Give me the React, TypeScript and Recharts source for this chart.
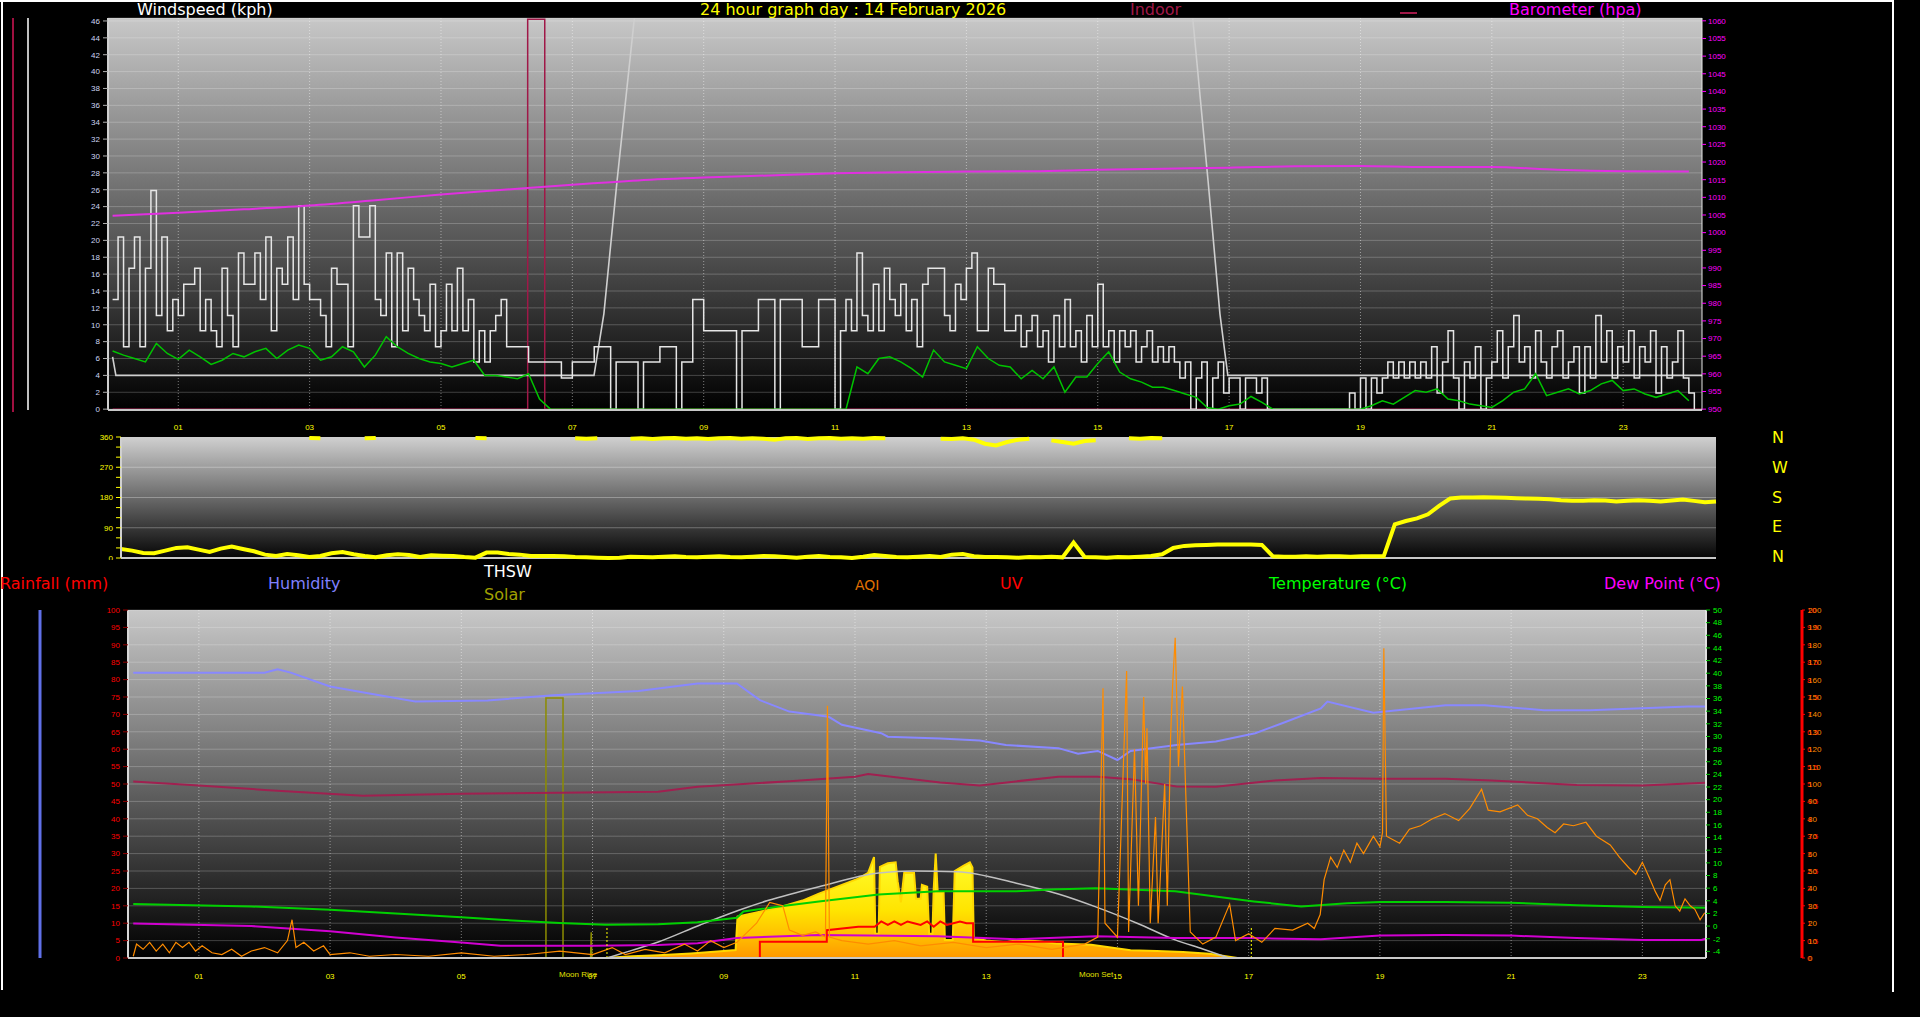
import React from 'react';
import { ComposedChart, Line, Area, XAxis, YAxis, CartesianGrid, ReferenceLine } from 'recharts';

// ---------- windspeed panel ----------
// gusts (kph), one reading every 5 minutes from 00:00
const gustKph = [
  13, 20.4, 7.4, 16.7, 20.4, 7.4, 16.7, 25.9, 11.1, 20.4, 9.3, 13,
  11.1, 14.8, 14.8, 16.7, 9.3, 13, 9.3, 7.4, 16.7, 11.1, 7.4, 18.5,
  14.8, 14.8, 18.5, 13, 20.4, 9.3, 16.7, 14.8, 20.4, 13, 24.1, 14.8,
  13, 13, 11.1, 7.4, 16.7, 14.8, 14.8, 7.4, 24.1, 20.4, 20.4, 24.1,
  13, 11.1, 18.5, 7.4, 18.5, 9.3, 16.7, 13, 11.1, 9.3, 14.8, 7.4,
  9.3, 14.8, 9.3, 16.7, 9.3, 13, 5.6, 9.3, 5.6, 9.3, 11.1, 13,
  7.4, 7.4, 7.4, 7.4, 5.6, 5.6, 5.6, 5.6, 5.6, 5.6, 3.7, 3.7,
  5.6, 5.6, 5.6, 5.6, 7.4, 7.4, 7.4, 0, 5.6, 5.6, 5.6, 5.6,
  0, 5.6, 5.6, 5.6, 7.4, 7.4, 7.4, 0, 5.6, 5.6, 13, 13,
  9.3, 9.3, 9.3, 9.3, 9.3, 9.3, 0, 9.3, 9.3, 9.3, 13, 13,
  13, 0, 13, 13, 13, 13, 7.4, 7.4, 7.4, 13, 13, 13,
  0, 9.3, 13, 9.3, 18.5, 11.1, 9.3, 14.8, 9.3, 16.7, 13, 11.1,
  14.8, 9.3, 13, 7.4, 14.8, 16.7, 16.7, 16.7, 11.1, 9.3, 14.8, 13,
  16.7, 18.5, 9.3, 9.3, 16.7, 14.8, 14.8, 9.3, 9.3, 11.1, 7.4, 9.3,
  11.1, 7.4, 9.3, 5.6, 11.1, 7.4, 13, 7.4, 9.3, 5.6, 11.1, 7.4,
  14.8, 7.4, 9.3, 5.6, 9.3, 7.4, 9.3, 5.6, 7.4, 9.3, 5.6, 7.4,
  5.6, 7.4, 5.6, 3.7, 5.6, 0, 3.7, 5.6, 0, 3.7, 5.6, 1.9,
  3.7, 3.7, 0, 3.7, 3.7, 1.9, 3.7, 0, 0, 0, 0, 0,
  0, 0, 0, 0, 0, 0, 0, 0, 0, 0, 1.9, 0,
  3.7, 0, 3.7, 1.9, 3.7, 5.6, 3.7, 5.6, 3.7, 5.6, 3.7, 5.6,
  3.7, 7.4, 1.9, 5.6, 9.3, 3.7, 0, 5.6, 3.7, 7.4, 0, 3.7,
  5.6, 9.3, 3.7, 7.4, 11.1, 5.6, 7.4, 3.7, 9.3, 5.6, 3.7, 7.4,
  9.3, 3.7, 5.6, 7.4, 1.9, 7.4, 3.7, 11.1, 5.6, 9.3, 3.7, 7.4,
  5.6, 9.3, 3.7, 7.4, 5.6, 9.3, 1.9, 7.4, 3.7, 5.6, 9.3, 3.7,
  1.9, 0,
];

// average wind (kph), every 10 minutes
const avgKph = [
  6.9, 6.4, 6.0, 5.6, 7.8, 6.6,
  5.9, 7.0, 6.2, 5.3, 5.8, 6.6,
  6.2, 6.8, 7.2, 6.0, 7.0, 7.6,
  7.2, 5.8, 6.2, 7.4, 6.8, 5.0,
  6.4, 8.6, 7.4, 6.6, 6.0, 5.6,
  5.4, 5.0, 5.4, 5.8, 4.0, 4.0,
  3.8, 3.6, 4.2, 1.2, 0, 0,
  0, 0, 0, 0, 0, 0,
  0, 0, 0, 0, 0, 0,
  0, 0, 0, 0, 0, 0,
  0, 0, 0, 0, 0, 0,
  0, 0, 5.0, 4.2, 6.0, 6.2,
  5.6, 4.8, 3.8, 7.0, 5.6, 5.2,
  4.8, 7.4, 6.0, 5.2, 5.0, 3.6,
  4.6, 3.6, 5.0, 2.0, 3.8, 3.8,
  5.4, 6.8, 4.4, 3.6, 3.2, 2.6,
  2.6, 2.2, 1.8, 1.4, 0.2, 0,
  0.4, 0.6, 1.5, 0.8, 0, 0,
  0, 0, 0, 0, 0, 0,
  0, 0.4, 1.0, 0.6, 1.4, 2.2,
  2.0, 2.4, 1.2, 1.0, 0.6, 0.4,
  0.2, 1.0, 2.0, 2.4, 4.2, 1.6,
  2.0, 2.4, 1.8, 2.2, 3.0, 3.4,
  2.2, 2.4, 1.8, 1.4, 1.8, 2.2,
  1.0,
];

// barometer (hPa), hourly
const baroHpa = [
  1004.8, 1005.6, 1006.6, 1007.7, 1009.2, 1010.8, 1012.2, 1013.6, 1014.8, 1015.6, 1016.2, 1016.8,
  1017.1, 1017.3, 1017.4, 1017.8, 1018.1, 1018.4, 1018.8, 1018.9, 1018.6, 1018.6, 1017.8, 1017.4, 1017.3,
];

// [hour, value] traces on the windspeed scale
const sunTrace: [number, number][] = [
  [0, 6.2], [0.05, 4], [7.33, 4], [7.48, 11.3], [7.68, 27], [7.94, 46], [8.1, 60],
  [16.3, 60], [16.45, 46], [16.68, 27], [16.86, 11.3], [16.98, 4], [24.2, 4],
];
const indoorTrace: [number, number][] = [
  [0, 0], [6.32, 0], [6.32, 46.2], [6.58, 46.2], [6.58, 0], [24.2, 0],
];

// ---------- wind direction panel, every 10 minutes (deg) ----------
const n = null;
const dirLow = [
  27, 22, 15, 14, 22, 30,
  32, 25, 18, 28, 34, 27,
  20, 10, 6, 12, 8, 3,
  6, 14, 18, 11, 6, 2,
  8, 11, 9, 3, 8, 7,
  6, 3, 1, 16, 16, 12,
  10, 6, 6, 6, 5, 3,
  2, 1, 0, 1, 4, 3,
  2, 4, 5, 3, 2, 4,
  5, 3, 2, 4, 6, 5,
  3, 1, 4, 6, 3, 2,
  0, 4, 9, 6, 3, 2,
  4, 6, 3, 10, 12, 5,
  3, 3, 2, 1, 3, 2,
  4, 2, 46, 3, 2, 1,
  3, 2, 4, 6, 11, 30,
  36, 38, 39, 40, 40, 40,
  40, 39, 5, 4, 4, 5,
  4, 5, 5, 4, 5, 5,
  5, 100, 110, 118, 130, 155,
  177, 180, 180, 181, 180, 179,
  178, 177, 176, 175, 172, 170,
  170, 172, 171, 168, 170, 172,
  170, 168, 171, 174, 170, 166,
  168,
];
const dirHigh = [
  n, n, n, n, n, n,
  n, n, n, n, n, n,
  n, n, n, n, n, 357,
  356, n, n, n, 356, 357,
  n, n, n, n, n, n,
  n, n, 357, 356, n, n,
  n, n, n, n, n, 356,
  355, 356, n, n, 355, 356,
  354, 356, 357, 355, 356, 354,
  356, 357, 355, 356, 355, 352,
  356, 357, 354, 356, 357, 355,
  356, 355, 357, 356, n, n,
  n, n, 355, 354, 356, 352,
  340, 335, 345, 352, 355, n,
  350, 345, 340, 348, 350, n,
  n, 356, 355, 357, 356, n,
  n, n, n, n, n, n,
  n, n, n, n, n, n,
  n, n, n, n, n, n,
  n, n, n, n, n, n,
  n, n, n, n, n, n,
  n, n, n, n, n, n,
  n, n, n, n, n, n,
  n, n, n, n, n, n,
  n,
];

// ---------- lower panel: [hour, value] ----------
const humidityPct: [number, number][] = [
  [0, 82], [1, 82], [2, 82], [2.2, 83], [2.4, 82], [3, 78], [3.6, 76], [4.3, 73.7], [5.4, 74], [6.4, 75.5],
  [7.7, 76.7], [8.6, 78.9], [9.2, 78.9], [9.55, 74.1], [10, 70.8], [10.6, 69.3], [10.8, 67], [11.4, 64.6],
  [11.5, 63.6], [12.3, 63.1], [12.9, 62.5], [13.3, 61.2], [14.1, 60.3], [14.4, 58.7], [14.7, 59.5], [15, 56.9],
  [15.2, 59.5], [15.9, 61.2], [16.5, 62.2], [17.1, 64.6], [17.5, 67.4], [18.1, 71.7], [18.2, 73.7], [18.9, 70.5],
  [20, 72.6], [20.6, 72.6], [21.5, 71.2], [22.2, 71.2], [23.7, 72.3], [24, 72.3],
];
const indoorHumPct: [number, number][] = [
  [0, 50.7], [1, 49.6], [2, 48.3], [3.5, 46.6], [5, 47.2], [6.5, 47.5], [8, 47.8], [8.6, 49.2], [10, 50.8],
  [11, 52.1], [11.2, 52.9], [12.3, 50.4], [12.9, 49.6], [14.1, 52.1], [14.7, 52.1], [15.2, 51.4], [15.9, 49.3],
  [16.5, 49.2], [17.4, 51], [18.1, 51.7], [19, 51.5], [20, 51.5], [20.7, 51], [22, 49.7], [23, 49.6], [24, 50.4],
];
const temperatureC: [number, number][] = [
  [0, 3.5], [1.8, 3.1], [3, 2.6], [4, 2.0], [5, 1.4], [5.6, 1.0], [6.5, 0.5], [7.2, 0.2], [8, 0.3], [8.6, 0.6],
  [9.2, 1.3], [9.3, 2.3], [9.84, 3.1], [10.45, 3.9], [11.36, 5.0], [12.26, 5.5], [13.46, 5.5], [14, 5.8],
  [14.67, 6.0], [15.88, 5.5], [17.08, 3.9], [17.8, 3.1], [18.5, 3.6], [19, 3.8], [20, 3.8], [21, 3.7],
  [22, 3.3], [23, 3.0], [24, 2.9],
];
const dewPointC: [number, number][] = [
  [0, 0.4], [1.8, 0.0], [3, -0.8], [4, -1.8], [5, -2.6], [5.6, -3.1], [7, -3.1], [8, -3.0], [8.6, -2.7],
  [9.2, -1.9], [10.45, -1.4], [12.26, -1.6], [13.46, -2.1], [14.67, -1.6], [15.88, -1.9], [17.08, -1.9],
  [18.1, -2.1], [19, -1.5], [20, -1.4], [21, -1.5], [22, -1.9], [23, -2.2], [23.9, -2.2], [24, -1.9],
];
const sunElevation: [number, number][] = [
  [7.22, 0], [7.6, 2.2], [8, 4.6], [8.64, 9.5], [9.24, 13.8], [9.67, 16.5], [10.45, 20.5], [11.36, 24.4],
  [11.9, 25], [12.56, 24.8], [13.46, 21.5], [14.1, 18.4], [14.67, 14.7], [15.3, 10], [15.88, 5.2],
  [16.3, 2.6], [16.7, 0],
];
const solarWm2: [number, number][] = [
  [0, 0], [7.2, 0], [7.6, 5], [8.0, 8], [8.5, 13], [9.0, 20], [9.18, 23], [9.21, 119], [9.5, 131], [9.84, 145],
  [10.2, 165], [10.45, 185], [10.8, 210], [11.05, 228], [11.2, 245], [11.29, 290], [11.31, 70], [11.36, 70],
  [11.38, 262], [11.5, 272], [11.62, 275], [11.65, 220], [11.7, 160], [11.75, 244], [11.9, 244], [11.93, 170],
  [12.0, 170], [12.02, 210], [12.1, 205], [12.13, 70], [12.18, 70], [12.2, 200], [12.23, 300], [12.26, 190],
  [12.35, 190], [12.37, 52], [12.49, 52], [12.52, 250], [12.65, 265], [12.75, 275], [12.79, 260], [12.81, 57],
  [13.0, 50], [13.3, 45], [13.5, 52], [13.8, 48], [14.06, 42], [14.3, 40], [14.6, 38], [14.9, 30], [15.2, 22],
  [15.6, 20], [16.0, 17], [16.4, 12], [16.83, 0], [24, 0],
];
const uvIndex: [number, number][] = [
  [0, 0], [9.55, 0], [9.55, 0.47], [10.57, 0.47], [10.57, 0.8], [11.05, 0.9], [11.3, 0.9], [11.4, 1.05],
  [11.5, 0.95], [11.6, 1.05], [11.7, 0.95], [11.8, 1.05], [11.9, 1.0], [12.0, 0.95], [12.1, 1.05], [12.2, 0.9],
  [12.3, 1.05], [12.4, 0.95], [12.5, 1.0], [12.6, 1.05], [12.7, 1.0], [12.8, 1.0], [12.8, 0.47], [14.17, 0.47],
  [14.17, 0], [24, 0],
];
const aqi: [number, number][] = [
  [0, 1], [0.05, 8], [0.15, 5], [0.25, 9], [0.35, 4], [0.45, 8], [0.55, 3], [0.65, 9], [0.75, 6], [0.85, 9],
  [0.95, 4], [1.05, 7], [1.2, 3], [1.35, 2], [1.5, 5], [1.65, 1], [1.8, 4], [2.0, 6], [2.2, 3], [2.35, 10],
  [2.42, 22], [2.48, 6], [2.6, 9], [2.75, 4], [2.9, 7], [3.0, 2], [3.3, 3], [3.6, 1], [4.0, 2], [4.5, 1],
  [5.0, 3], [5.5, 1], [6.0, 2], [6.5, 4], [7.0, 2], [7.3, 6], [7.5, 2], [7.8, 5], [8.1, 3], [8.4, 8], [8.6, 4],
  [8.8, 10], [9.0, 6], [9.2, 9], [9.5, 20], [9.7, 32], [9.9, 30], [10.0, 16], [10.2, 13], [10.4, 15],
  [10.55, 12], [10.58, 145], [10.61, 12], [10.8, 10], [11.2, 8], [11.6, 10], [12.0, 7], [12.5, 9], [13.0, 6],
  [13.5, 8], [14.0, 5], [14.5, 8], [14.7, 12], [14.78, 155], [14.81, 20], [15.0, 12], [15.14, 165],
  [15.17, 15], [15.26, 120], [15.32, 30], [15.4, 150], [15.43, 100], [15.45, 132], [15.5, 20], [15.58, 81],
  [15.62, 20], [15.72, 100], [15.76, 30], [15.81, 127], [15.84, 156], [15.88, 184], [15.93, 110],
  [15.99, 156], [16.04, 96], [16.11, 15], [16.3, 8], [16.5, 12], [16.71, 31], [16.8, 10], [17.0, 14],
  [17.2, 9], [17.4, 17], [17.67, 16], [17.9, 20], [18.0, 17], [18.09, 25], [18.15, 45], [18.25, 58],
  [18.35, 52], [18.45, 62], [18.55, 55], [18.65, 66], [18.75, 60], [18.9, 70], [19.0, 64], [19.04, 72],
  [19.06, 178], [19.1, 70], [19.3, 66], [19.45, 74], [19.62, 76], [19.8, 80], [19.99, 83], [20.2, 79],
  [20.37, 86], [20.55, 97], [20.65, 85], [20.83, 84], [21.1, 88], [21.25, 82], [21.4, 80], [21.55, 75],
  [21.67, 72], [21.8, 77], [21.95, 76], [22.14, 78], [22.3, 70], [22.51, 65], [22.65, 58], [22.79, 52],
  [22.9, 48], [23.0, 55], [23.12, 45], [23.2, 38], [23.27, 33], [23.35, 42], [23.42, 45], [23.5, 30],
  [23.57, 27], [23.65, 34], [23.73, 30], [23.8, 28], [23.88, 22], [23.95, 26],
];
const thswStep: [number, number][] = [
  [6.29, 0], [6.29, 74.7], [6.55, 74.7], [6.55, 0], [6.97, 0], [6.98, 7.4], [6.99, 0],
];

// ---------- ticks ----------
const hourTicks = [1, 3, 5, 7, 9, 11, 13, 15, 17, 19, 21, 23];
const halfHourTicks = Array.from({ length: 49 }, (_, i) => i / 2);
const spdTicks = Array.from({ length: 24 }, (_, i) => i * 2);
const indoorTicks = Array.from({ length: 28 }, (_, i) => -4 + i * 2);
const baroTicks = Array.from({ length: 23 }, (_, i) => 950 + i * 5);
const dirTicks = Array.from({ length: 13 }, (_, i) => i * 30);
const pctTicks = Array.from({ length: 21 }, (_, i) => i * 5);
const tempTicks = Array.from({ length: 28 }, (_, i) => -4 + i * 2);
const aqiTicks = Array.from({ length: 21 }, (_, i) => i * 10);

const pts = (rows: [number, number][]) => rows.map(([t, v]) => ({ t, v }));
const series = (vals: (number | null)[], perHour: number) => vals.map((v, i) => ({ t: i / perHour, v }));

const gustData = series(gustKph, 12);
const avgData = series(avgKph, 6);
const baroData = series(baroHpa, 1);
const dirLowData = series(dirLow, 6);
const dirHighData = series(dirHigh, 6);

const tickFont = '"Liberation Sans", Arial, sans-serif';
const headFont = '"DejaVu Sans", sans-serif';
const fmtHour = (h: number) => String(h).padStart(2, '0');
const lastDigit = (v: number) => (v >= 10 ? String(v).slice(-1) : String(v));

const Head = ({ text, x, y, color, size = 16 }: { text: string; x: number; y: number; color: string; size?: number }) => (
  <div style={{ position: 'absolute', left: x, top: y, color, fontSize: size, fontFamily: headFont, lineHeight: '18px', whiteSpace: 'nowrap' }}>
    {text}
  </div>
);

const TwinTick = (props: any) => {
  const { x, y, payload } = props;
  const a = payload.value as number;
  const u = a / 20;
  const uvText = Number.isInteger(u) ? String(u) : u.toFixed(1);
  return (
    <g fontFamily={tickFont} fontSize={8}>
      <text x={x - 1} y={y} dy={3} fill="#ff0000">{uvText}</text>
      <text x={x} y={y} dy={3} fill="#ff8c00">{a}</text>
    </g>
  );
};

const common = { dot: false, activeDot: false, isAnimationActive: false } as const;

// axes on the same side get stacked by id order: lowest id sits next to the plot
const WindPanel = () => (
  <ComposedChart width={1800} height={440} margin={{ top: 18, right: 38, left: 0, bottom: 0 }}>
    <defs>
      <linearGradient id="bgWind" x1="0" y1="0" x2="0" y2="1">
        <stop offset="0%" stopColor="#c8c8c8" />
        <stop offset="100%" stopColor="#000000" />
      </linearGradient>
    </defs>
    <CartesianGrid xAxisId="h" yAxisId="y1spd" vertical={false} fill="url(#bgWind)" fillOpacity={1} stroke="rgba(255,255,255,0.22)" />
    <CartesianGrid xAxisId="h" yAxisId="y1spd" horizontal={false} verticalValues={hourTicks} stroke="rgba(255,255,255,0.45)" strokeDasharray="1 2" />
    <XAxis xAxisId="m" type="number" dataKey="t" domain={[-0.07, 24.2]} ticks={halfHourTicks} allowDataOverflow height={0} tick={false} tickSize={4} tickLine={{ stroke: '#a0a0a0' }} axisLine={false} />
    <XAxis xAxisId="h" type="number" dataKey="t" domain={[-0.07, 24.2]} ticks={hourTicks} allowDataOverflow height={30} interval={0}
      tickFormatter={fmtHour} tick={{ fill: '#ffff00', fontSize: 8, fontFamily: tickFont }} tickLine={false} tickMargin={8}
      axisLine={{ stroke: '#c8c8c8', strokeWidth: 2 }} />
    <YAxis yAxisId="y1spd" width={80} domain={[-0.1, 46.35]} ticks={spdTicks} interval={0} allowDataOverflow
      tick={{ fill: '#cdd6f4', fontSize: 8, fontFamily: tickFont }} tickSize={5} tickMargin={3}
      tickLine={{ stroke: '#b0b0b0' }} axisLine={{ stroke: '#d0d0d0', strokeWidth: 2 }} />
    <YAxis yAxisId="y2in" width={28} domain={[-5.13, 50.43]} ticks={indoorTicks} interval={0} tickFormatter={lastDigit}
      tick={{ fill: '#cdd6f4', fontSize: 8, fontFamily: tickFont }} tickSize={5} tickMargin={2}
      tickLine={{ stroke: '#b0b0b0' }} axisLine={{ stroke: '#c0c0c0', strokeWidth: 2 }} />
    <YAxis yAxisId="y3baro" orientation="right" width={60} domain={[949.76, 1060.8]} ticks={baroTicks} interval={0}
      tick={{ fill: '#ff00ff', fontSize: 8, fontFamily: tickFont }} tickSize={4} tickMargin={2}
      tickLine={{ stroke: '#ff00ff' }} axisLine={{ stroke: '#e8e8e8', strokeWidth: 1 }} />
    <Line xAxisId="h" yAxisId="y1spd" data={pts(indoorTrace)} dataKey="v" type="linear" stroke="#a01848" strokeWidth={1.5} {...common} />
    <Line xAxisId="h" yAxisId="y1spd" data={pts(sunTrace)} dataKey="v" type="linear" stroke="#cfcfcf" strokeWidth={1.6} {...common} />
    <Line xAxisId="h" yAxisId="y1spd" data={gustData} dataKey="v" type="stepAfter" stroke="#e6e6e6" strokeWidth={1.5} {...common} />
    <Line xAxisId="h" yAxisId="y1spd" data={avgData} dataKey="v" type="linear" stroke="#00c400" strokeWidth={1.5} {...common} />
    <Line xAxisId="h" yAxisId="y3baro" data={baroData} dataKey="v" type="monotone" stroke="#e030e0" strokeWidth={2} {...common} />
  </ComposedChart>
);

const DirectionPanel = () => (
  <ComposedChart width={1720} height={130} margin={{ top: 7, right: 4, left: 0, bottom: 2 }}>
    <defs>
      <linearGradient id="bgDir" x1="0" y1="0" x2="0" y2="1">
        <stop offset="0%" stopColor="#d0d0d0" />
        <stop offset="100%" stopColor="#050505" />
      </linearGradient>
    </defs>
    <CartesianGrid xAxisId="d" yAxisId="deg" vertical={false} horizontalValues={[90, 180, 270]} fill="url(#bgDir)" fillOpacity={1} stroke="rgba(255,255,255,0.3)" />
    <XAxis xAxisId="d" type="number" dataKey="t" domain={[0, 24]} hide />
    <YAxis yAxisId="deg" width={121} domain={[0, 360]} ticks={dirTicks} interval={0}
      tickFormatter={(v: number) => (v % 90 === 0 ? String(v) : '')}
      tick={{ fill: '#ffff00', fontSize: 8, fontFamily: tickFont }} tickSize={5} tickMargin={3}
      tickLine={{ stroke: '#ffff00' }} axisLine={{ stroke: '#d0d0d0', strokeWidth: 2 }} />
    <ReferenceLine xAxisId="d" yAxisId="deg" y={0} stroke="#c8c8c8" strokeWidth={2} />
    <Line xAxisId="d" yAxisId="deg" data={dirLowData} dataKey="v" type="linear" stroke="#ffff00" strokeWidth={4} connectNulls={false} {...common} />
    <Line xAxisId="d" yAxisId="deg" data={dirHighData} dataKey="v" type="linear" stroke="#ffff00" strokeWidth={4} connectNulls={false} {...common} />
  </ComposedChart>
);

const ClimatePanel = () => (
  <ComposedChart width={1900} height={388} margin={{ top: 10, right: 38, left: 0, bottom: 0 }}>
    <defs>
      <linearGradient id="bgClim" x1="0" y1="0" x2="0" y2="1">
        <stop offset="0%" stopColor="#c8c8c8" />
        <stop offset="100%" stopColor="#000000" />
      </linearGradient>
      <linearGradient id="solarFill" x1="0" y1="0" x2="0" y2="1">
        <stop offset="0%" stopColor="#ffff30" />
        <stop offset="55%" stopColor="#ffe400" />
        <stop offset="78%" stopColor="#ffc000" />
        <stop offset="100%" stopColor="#ff9800" />
      </linearGradient>
    </defs>
    <CartesianGrid xAxisId="h" yAxisId="y1pct" vertical={false} fill="url(#bgClim)" fillOpacity={1} stroke="rgba(255,255,255,0.22)" />
    <CartesianGrid xAxisId="h" yAxisId="y1pct" horizontal={false} verticalValues={hourTicks} stroke="rgba(255,255,255,0.45)" strokeDasharray="1 2" />
    <XAxis xAxisId="m" type="number" dataKey="t" domain={[-0.08, 23.97]} ticks={halfHourTicks} allowDataOverflow height={0} tick={false} tickSize={4} tickLine={{ stroke: '#a0a0a0' }} axisLine={false} />
    <XAxis xAxisId="h" type="number" dataKey="t" domain={[-0.08, 23.97]} ticks={hourTicks} allowDataOverflow height={30} interval={0}
      tickFormatter={fmtHour} tick={{ fill: '#ffff00', fontSize: 8, fontFamily: tickFont }} tickLine={false} tickMargin={9}
      axisLine={{ stroke: '#c8c8c8', strokeWidth: 2 }} />
    <YAxis yAxisId="y1pct" width={88} domain={[0, 100]} ticks={pctTicks} interval={0}
      tick={{ fill: '#ff0000', fontSize: 8, fontFamily: tickFont }} tickSize={5} tickMargin={3}
      tickLine={{ stroke: '#900000' }} axisLine={{ stroke: '#d8d8d8', strokeWidth: 2 }} />
    <YAxis yAxisId="y2hum" width={40} domain={[0, 100]} ticks={pctTicks} interval={0} tickFormatter={lastDigit}
      tick={{ fill: '#6a7aff', fontSize: 8, fontFamily: tickFont }} tickSize={4} tickMargin={3}
      tickLine={{ stroke: '#6a7aff' }} axisLine={{ stroke: '#6070e8', strokeWidth: 3 }} />
    <YAxis yAxisId="y3temp" orientation="right" width={96} domain={[-5.05, 50]} ticks={tempTicks} interval={0}
      tick={{ fill: '#00ff00', fontSize: 8, fontFamily: tickFont }} tickSize={4} tickMargin={3}
      tickLine={{ stroke: '#00c000' }} axisLine={{ stroke: '#e0e0e0', strokeWidth: 2 }} />
    <YAxis yAxisId="y4aqi" orientation="right" width={60} domain={[0, 200]} ticks={aqiTicks} interval={0}
      tick={<TwinTick />} tickSize={3} tickMargin={3}
      tickLine={{ stroke: '#ff0000' }} axisLine={{ stroke: '#ff0000', strokeWidth: 3 }} />
    <YAxis yAxisId="y5solar" domain={[0, 1000]} hide />
    <YAxis yAxisId="y6uv" domain={[0, 10]} hide />
    <Area xAxisId="h" yAxisId="y5solar" data={pts(solarWm2)} dataKey="v" type="linear" stroke="#ffd800" strokeWidth={2} fill="url(#solarFill)" fillOpacity={1} {...common} />
    <Line xAxisId="h" yAxisId="y1pct" data={pts(thswStep)} dataKey="v" type="linear" stroke="#8c8c00" strokeWidth={1.5} {...common} />
    <Line xAxisId="h" yAxisId="y1pct" data={pts(sunElevation)} dataKey="v" type="monotone" stroke="#c0c0c0" strokeWidth={1.5} {...common} />
    <Line xAxisId="h" yAxisId="y1pct" data={pts(indoorHumPct)} dataKey="v" type="linear" stroke="#a02050" strokeWidth={2} {...common} />
    <Line xAxisId="h" yAxisId="y1pct" data={pts(humidityPct)} dataKey="v" type="linear" stroke="#8888ff" strokeWidth={2} {...common} />
    <Line xAxisId="h" yAxisId="y3temp" data={pts(dewPointC)} dataKey="v" type="linear" stroke="#d000d0" strokeWidth={2} {...common} />
    <Line xAxisId="h" yAxisId="y3temp" data={pts(temperatureC)} dataKey="v" type="linear" stroke="#00d000" strokeWidth={2} {...common} />
    <Line xAxisId="h" yAxisId="y6uv" data={pts(uvIndex)} dataKey="v" type="linear" stroke="#ff0000" strokeWidth={2} {...common} />
    <Line xAxisId="h" yAxisId="y4aqi" data={pts(aqi)} dataKey="v" type="linear" stroke="#ff8c00" strokeWidth={1.2} {...common} />
    <ReferenceLine xAxisId="h" yAxisId="y1pct" segment={[{ x: 7.22, y: 0 }, { x: 7.22, y: 9 }]} stroke="#ffff00" strokeDasharray="2 2" />
    <ReferenceLine xAxisId="h" yAxisId="y1pct" segment={[{ x: 17.04, y: 0 }, { x: 17.04, y: 9 }]} stroke="#ffff00" strokeDasharray="2 2" />
  </ComposedChart>
);

export default function App() {
  return (
    <div style={{ position: 'absolute', left: 0, top: 0, width: 1920, height: 1017, background: '#000', overflow: 'hidden' }}>
      <div style={{ position: 'absolute', left: 0, top: 0 }}><WindPanel /></div>
      <div style={{ position: 'absolute', left: 0, top: 430 }}><DirectionPanel /></div>
      <div style={{ position: 'absolute', left: 0, top: 600 }}><ClimatePanel /></div>

      {/* frame and the cut indoor scale */}
      <div style={{ position: 'absolute', left: 1, top: 0, width: 2, height: 990, background: '#fff' }} />
      <div style={{ position: 'absolute', left: 0, top: 0, width: 1894, height: 2, background: '#fff' }} />
      <div style={{ position: 'absolute', left: 1892, top: 0, width: 2, height: 992, background: '#fff' }} />
      <div style={{ position: 'absolute', left: 12, top: 18, width: 2, height: 394, background: '#a01040' }} />

      <Head text="Windspeed (kph)" x={137} y={1} color="#ffffff" />
      <Head text="24 hour graph day : 14 February 2026" x={700} y={1} color="#ffff00" />
      <Head text="Indoor" x={1130} y={1} color="#a01848" />
      <div style={{ position: 'absolute', left: 1400, top: 12, width: 17, height: 2, background: '#a01848' }} />
      <Head text="Barometer (hpa)" x={1509} y={1} color="#ff00ff" />

      {['N', 'W', 'S', 'E', 'N'].map((c, i) => (
        <Head key={i} text={c} x={1772} y={429 + i * 29.8} color="#ffff00" />
      ))}

      <Head text="Rainfall (mm)" x={0} y={575} color="#ff0000" />
      <Head text="Humidity" x={268} y={575} color="#8080ff" />
      <Head text="THSW" x={484} y={563} color="#ffffff" />
      <Head text="Solar" x={484} y={586} color="#a0a000" />
      <Head text="AQI" x={855} y={576} color="#e07000" size={14} />
      <Head text="UV" x={1000} y={575} color="#ff0000" />
      <Head text="Temperature (°C)" x={1269} y={575} color="#00ff00" />
      <Head text="Dew Point (°C)" x={1604} y={575} color="#ff00ff" />

      <div style={{ position: 'absolute', left: 559, top: 970, color: '#e0e000', fontSize: 8, fontFamily: tickFont }}>Moon Rise</div>
      <div style={{ position: 'absolute', left: 1079, top: 970, color: '#e0e000', fontSize: 8, fontFamily: tickFont }}>Moon Set</div>
    </div>
  );
}
